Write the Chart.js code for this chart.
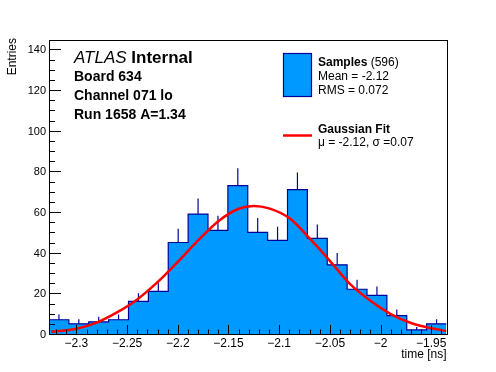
<!DOCTYPE html>
<html>
<head>
<meta charset="utf-8">
<script src="https://cdn.jsdelivr.net/npm/chart.js@4/dist/chart.umd.min.js"></script>
<style>
  html, body { margin: 0; padding: 0; background: #ffffff; }
  canvas { display: block; }
</style>
</head>
<body>
<canvas id="chart" width="496" height="372"></canvas>
<script>
// ==================== Data ====================

// histogram bin edges (time [ns]), 20 bins
const binEdges = [
  -2.3270, -2.3074, -2.2878, -2.2682, -2.2486, -2.2290, -2.2094,
  -2.1898, -2.1702, -2.1506, -2.1310, -2.1114, -2.0918, -2.0722,
  -2.0526, -2.0330, -2.0134, -1.9938, -1.9742, -1.9546, -1.9350
];

// entries per bin
const counts = [7, 5, 6, 7, 16, 21, 45, 59, 51, 73, 50, 46, 71, 47, 34, 22, 19, 9, 2, 5];

// gaussian fit curve
const fitX = [-2.325, -2.30, -2.28, -2.26, -2.24, -2.22, -2.20, -2.18, -2.16, -2.14, -2.125,
              -2.11, -2.09, -2.07, -2.05, -2.03, -2.01, -1.99, -1.97, -1.95, -1.935];
const fitY = [1.1, 2.6, 5.6, 10.6, 17.0, 25.5, 35.5, 46.0, 55.5, 61.6, 63.0,
              61.8, 57.0, 47.0, 36.0, 24.5, 16.3, 9.8, 5.4, 2.8, 1.5];

// axis tick labels
const xTicks = [-2.3, -2.25, -2.2, -2.15, -2.1, -2.05, -2, -1.95];
const xTickLabels = ['\u22122.3', '\u22122.25', '\u22122.2', '\u22122.15', '\u22122.1', '\u22122.05', '\u22122', '\u22121.95'];
const yTicks = [0, 20, 40, 60, 80, 100, 120, 140];

const X_MIN = -2.327;
const X_MAX = -1.935;
const Y_MAX = 144.6;

const FONT = '"Liberation Sans", Arial, Helvetica, sans-serif';
const FILL = '#0099ff';
const LINE = '#000099';

// ==================== Datasets ====================

// step outline: each edge carries the height of the bin that starts there
const histPoints = binEdges.map((x, i) => ({ x, y: counts[Math.min(i, counts.length - 1)] }));

// upper half of the sqrt(N) error bars, separated by gaps
const errPoints = [];
counts.forEach((n, i) => {
  const xc = (binEdges[i] + binEdges[i + 1]) / 2;
  errPoints.push({ x: xc, y: n }, { x: xc, y: n + Math.sqrt(n) }, { x: xc, y: null });
});

const fitPoints = fitX.map((x, i) => ({ x, y: fitY[i] }));

// ==================== Frame, ticks, text ====================

const rootFrame = {
  id: 'rootFrame',
  afterDatasetsDraw(chart) {
    const { ctx, chartArea: a, scales } = chart;
    const xs = scales.x, ys = scales.y;
    ctx.save();

    // frame
    ctx.strokeStyle = '#000';
    ctx.lineWidth = 1;
    ctx.strokeRect(Math.round(a.left) + 0.5, Math.round(a.top) + 0.5,
                   Math.round(a.right - a.left), Math.round(a.bottom - a.top));

    // y ticks (inward)
    ctx.beginPath();
    for (let v = 0; v <= Y_MAX; v += 5) {
      const py = Math.round(ys.getPixelForValue(v)) + 0.5;
      const len = v % 20 === 0 ? 12 : 6;
      ctx.moveTo(a.left, py);
      ctx.lineTo(a.left + len, py);
    }
    // x ticks (inward)
    for (let k = -232; k <= -194; k++) {
      const px = Math.round(xs.getPixelForValue(k / 100)) + 0.5;
      const len = k % 5 === 0 ? 9 : 4.5;
      ctx.moveTo(px, a.bottom);
      ctx.lineTo(px, a.bottom - len);
    }
    ctx.stroke();

    // tick labels
    ctx.fillStyle = '#000';
    ctx.font = `11px ${FONT}`;
    ctx.textAlign = 'right';
    ctx.textBaseline = 'alphabetic';
    yTicks.forEach(v => {
      ctx.fillText(String(v), a.left - 3, ys.getPixelForValue(v) + 4);
    });
    ctx.font = `12px ${FONT}`;
    ctx.textAlign = 'center';
    xTicks.forEach((v, i) => {
      ctx.fillText(xTickLabels[i], xs.getPixelForValue(v), a.bottom + 13);
    });

    // axis titles
    ctx.textAlign = 'right';
    ctx.fillText('time [ns]', a.right, a.bottom + 24);
    ctx.save();
    ctx.translate(16, a.top - 2);
    ctx.rotate(-Math.PI / 2);
    ctx.fillText('Entries', 0, 0);
    ctx.restore();

    // ATLAS label block
    ctx.textAlign = 'left';
    ctx.font = `italic 17px ${FONT}`;
    ctx.fillText('ATLAS', 74, 63);
    const w = ctx.measureText('ATLAS ').width;
    ctx.font = `bold 17px ${FONT}`;
    ctx.fillText('Internal', 74 + w, 63);
    ctx.font = `bold 14px ${FONT}`;
    ctx.fillText('Board 634', 74, 81);
    ctx.fillText('Channel 071 lo', 74, 100);
    ctx.fillText('Run 1658 A=1.34', 74, 119);

    // legend
    ctx.fillStyle = FILL;
    ctx.fillRect(283.5, 53.5, 28, 43);
    ctx.strokeStyle = LINE;
    ctx.lineWidth = 1.2;
    ctx.strokeRect(283.5, 53.5, 28, 43);

    ctx.fillStyle = '#000';
    ctx.font = `bold 12px ${FONT}`;
    ctx.fillText('Samples', 318, 66);
    const ws = ctx.measureText('Samples ').width;
    ctx.font = `12px ${FONT}`;
    ctx.fillText('(596)', 318 + ws, 66);
    ctx.fillText('Mean = -2.12', 318, 80);
    ctx.fillText('RMS = 0.072', 318, 94);

    ctx.strokeStyle = '#ff0000';
    ctx.lineWidth = 2.5;
    ctx.beginPath();
    ctx.moveTo(283, 135.5);
    ctx.lineTo(312, 135.5);
    ctx.stroke();

    ctx.font = `bold 12px ${FONT}`;
    ctx.fillText('Gaussian Fit', 318, 133);
    ctx.font = `12px ${FONT}`;
    ctx.fillText('\u03bc = -2.12, \u03c3 =0.07', 318, 146);

    ctx.restore();
  }
};

// ==================== Chart ====================

new Chart(document.getElementById('chart'), {
  type: 'line',
  data: {
    datasets: [
      {
        label: 'Gaussian Fit',
        data: fitPoints,
        borderColor: '#ff0000',
        borderWidth: 2.5,
        cubicInterpolationMode: 'monotone',
        fill: false,
        order: 1
      },
      {
        label: 'errors',
        data: errPoints,
        borderColor: LINE,
        borderWidth: 1.2,
        spanGaps: false,
        fill: false,
        order: 2
      },
      {
        label: 'Samples',
        data: histPoints,
        stepped: true,
        borderColor: LINE,
        borderWidth: 1.2,
        backgroundColor: FILL,
        fill: 'origin',
        order: 3
      }
    ]
  },
  options: {
    responsive: false,
    animation: false,
    layout: { padding: { left: 49, right: 49.5, top: 40, bottom: 38 } },
    elements: { point: { radius: 0, hoverRadius: 0 } },
    scales: {
      x: { type: 'linear', min: X_MIN, max: X_MAX, display: false },
      y: { type: 'linear', min: 0, max: Y_MAX, display: false }
    },
    plugins: {
      legend: { display: false },
      tooltip: { enabled: false }
    }
  },
  plugins: [rootFrame]
});
</script>
</body>
</html>
